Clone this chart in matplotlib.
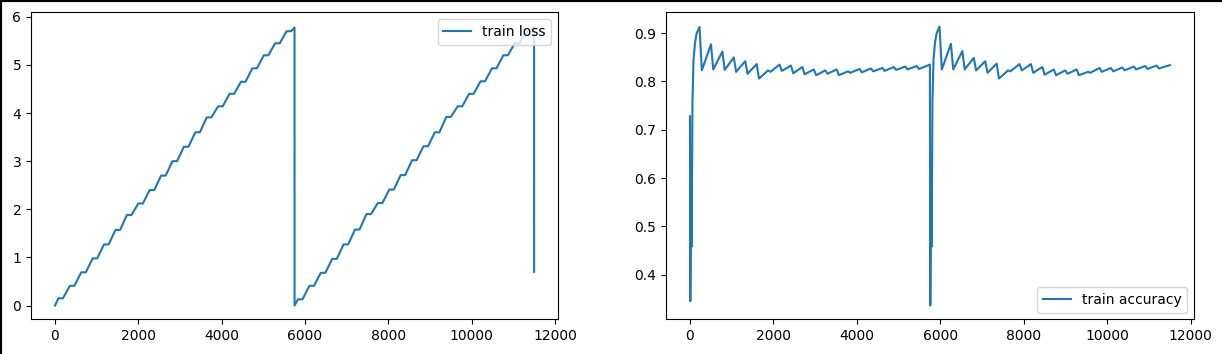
import numpy as np
import matplotlib
matplotlib.use('Agg')
import matplotlib.pyplot as plt
from matplotlib.lines import Line2D

iters_per_run = 5750
epochs_per_run = 21

# plateau reached by the (cumulative) train loss in every epoch
loss_levels_run1 = [0.15, 0.41, 0.69, 0.98, 1.27, 1.57, 1.88, 2.12, 2.40, 2.70, 3.00,
                    3.30, 3.60, 3.91, 4.14, 4.40, 4.65, 4.93, 5.20, 5.45, 5.70]
loss_levels_run2 = [0.13, 0.41, 0.68, 0.97, 1.27, 1.58, 1.90, 2.13, 2.41, 2.71, 3.02,
                    3.31, 3.60, 3.92, 4.14, 4.40, 4.66, 4.93, 5.20, 5.45, 5.69]
loss_end = [5.78, 5.80]
loss_last = 0.70

# accuracy over the first iterations of a run
acc_start_iters = [0, 8, 25, 40, 60, 85, 120, 160]
acc_start_run1 = [0.728, 0.345, 0.600, 0.458, 0.760, 0.845, 0.880, 0.900]
acc_start_run2 = [0.727, 0.336, 0.597, 0.458, 0.760, 0.845, 0.880, 0.900]

# accuracy just before (peak) and just after (trough) each epoch boundary
acc_peak_run1 = [0.913, 0.877, 0.862, 0.850, 0.842, 0.836, 0.823, 0.835, 0.833, 0.830,
                 0.825, 0.823, 0.825, 0.821, 0.826, 0.827, 0.828, 0.830, 0.831, 0.832]
acc_trough_run1 = [0.823, 0.825, 0.824, 0.820, 0.816, 0.806, 0.820, 0.822, 0.817, 0.815,
                   0.813, 0.816, 0.813, 0.818, 0.819, 0.821, 0.822, 0.824, 0.825, 0.826]
acc_peak_run2 = [0.914, 0.878, 0.863, 0.849, 0.842, 0.837, 0.823, 0.836, 0.836, 0.830,
                 0.825, 0.823, 0.825, 0.820, 0.828, 0.828, 0.829, 0.831, 0.832, 0.833]
acc_trough_run2 = [0.825, 0.825, 0.825, 0.823, 0.818, 0.806, 0.821, 0.823, 0.818, 0.814,
                   0.813, 0.816, 0.813, 0.818, 0.820, 0.821, 0.823, 0.825, 0.826, 0.827]
acc_end = [0.835, 0.834]


def loss_curve(levels, end, x_start):
    P = iters_per_run / epochs_per_run
    xs, ys = [x_start], [0.0]
    for e, lv in enumerate(levels):
        xs += [x_start + (e + 0.3) * P, x_start + (e + 0.7) * P]
        ys += [lv, lv]
    xs.append(x_start + iters_per_run - 1)
    ys.append(end)
    return xs, ys


def acc_curve(start_vals, peaks, troughs, end, x_start):
    P = iters_per_run / epochs_per_run
    xs = [x_start + i for i in acc_start_iters]
    ys = list(start_vals)
    for k, (pk, tr) in enumerate(zip(peaks, troughs), start=1):
        xs += [x_start + k * P - 45, x_start + k * P + 10]
        ys += [pk, tr]
    xs.append(x_start + iters_per_run - 1)
    ys.append(end)
    return xs, ys


lx1, ly1 = loss_curve(loss_levels_run1, loss_end[0], 0)
lx2, ly2 = loss_curve(loss_levels_run2, loss_end[1], iters_per_run)
loss_x = lx1 + lx2 + [2 * iters_per_run]
loss_y = ly1 + ly2 + [loss_last]

ax1_, ay1_ = acc_curve(acc_start_run1, acc_peak_run1, acc_trough_run1, acc_end[0], 0)
ax2_, ay2_ = acc_curve(acc_start_run2, acc_peak_run2, acc_trough_run2, acc_end[1], iters_per_run)
acc_x = ax1_ + ax2_
acc_y = ay1_ + ay2_

plt.rcParams['font.size'] = 10
fig = plt.figure(figsize=(12.22, 3.54), dpi=100)
ax_l = fig.add_axes([0.0254, 0.0975, 0.4313, 0.8672])
ax_r = fig.add_axes([0.545, 0.0975, 0.432, 0.8672])

ax_l.plot(loss_x, loss_y, label='train loss')
ax_l.legend(loc='upper right')

ax_r.plot(acc_x, acc_y, label='train accuracy')
ax_r.legend(loc='lower right')

# dark screenshot edge on top and left
fig.add_artist(Line2D([0, 1], [1, 1], transform=fig.transFigure, color='black', lw=3))
fig.add_artist(Line2D([0, 0], [0, 1], transform=fig.transFigure, color='black', lw=3))

fig.savefig('out.png', dpi=100)
